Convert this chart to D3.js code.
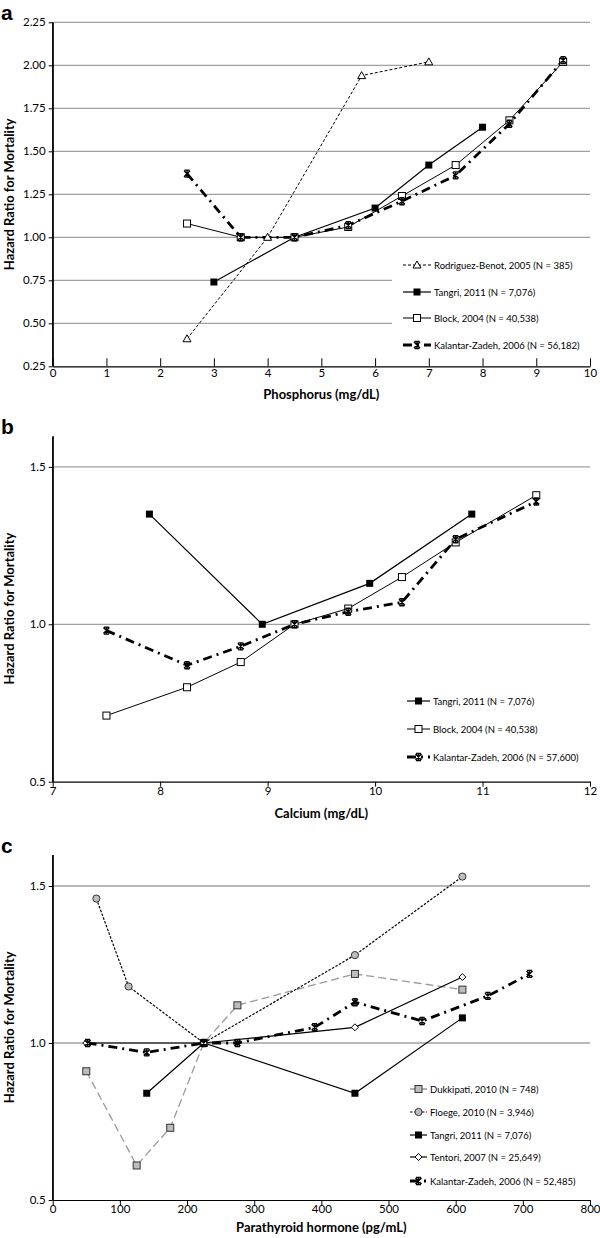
<!DOCTYPE html>
<html><head><meta charset="utf-8">
<script src="https://cdn.jsdelivr.net/npm/d3@7"></script>
<style>body{margin:0;background:#fff}</style>
</head><body><svg id="chart" width="600" height="1238"></svg>
<script>
// ---------- Panel a : Phosphorus ----------
const aXTicks = [0,1,2,3,4,5,6,7,8,9,10];
const aYTicks = [0.25,0.50,0.75,1.00,1.25,1.50,1.75,2.00,2.25];
const aRodriguezX = [2.5,4,5.75,7];
const aRodriguezY = [0.41,1.00,1.94,2.02];
const aTangriX = [3,4.5,6,7,8];
const aTangriY = [0.74,1.00,1.17,1.42,1.64];
const aBlockX = [2.5,3.5,4.5,5.5,6.5,7.5,8.5,9.5];
const aBlockY = [1.08,1.00,1.00,1.06,1.24,1.42,1.68,2.02];
const aKalantarX = [2.5,3.5,4.5,5.5,6.5,7.5,8.5,9.5];
const aKalantarY = [1.37,1.00,1.00,1.07,1.21,1.36,1.66,2.03];
const aLegend = ["Rodriguez-Benot, 2005 (N = 385)","Tangri, 2011  (N = 7,076)","Block, 2004  (N = 40,538)","Kalantar-Zadeh, 2006 (N = 56,182)"];

// ---------- Panel b : Calcium ----------
const bXTicks = [7,8,9,10,11,12];
const bYTicks = [0.5,1.0,1.5];
const bTangriX = [7.9,8.95,9.95,10.9];
const bTangriY = [1.35,1.00,1.13,1.35];
const bBlockX = [7.5,8.25,8.75,9.25,9.75,10.25,10.75,11.5];
const bBlockY = [0.71,0.80,0.88,1.00,1.05,1.15,1.26,1.41];
const bKalantarX = [7.5,8.25,8.75,9.25,9.75,10.25,10.75,11.5];
const bKalantarY = [0.98,0.87,0.93,1.00,1.04,1.07,1.27,1.39];
const bLegend = ["Tangri, 2011  (N = 7,076)","Block, 2004  (N = 40,538)","Kalantar-Zadeh, 2006 (N = 57,600)"];

// ---------- Panel c : PTH ----------
const cXTicks = [0,100,200,300,400,500,600,700,800];
const cYTicks = [0.5,1.0,1.5];
const cDukkipatiX = [50,125,175,225,275,450,610];
const cDukkipatiY = [0.91,0.61,0.73,1.00,1.12,1.22,1.17];
const cFloegeX = [65,113,225,450,610];
const cFloegeY = [1.46,1.18,1.00,1.28,1.53];
const cTangriX = [140,225,450,610];
const cTangriY = [0.84,1.00,0.84,1.08];
const cTentoriX = [50,225,450,610];
const cTentoriY = [1.00,1.00,1.05,1.21];
const cKalantarX = [52,140,225,275,390,450,550,648,710];
const cKalantarY = [1.00,0.97,1.00,1.00,1.05,1.13,1.07,1.15,1.22];
const cLegend = ["Dukkipati, 2010 (N = 748)","Floege, 2010 (N = 3,946)","Tangri, 2011  (N = 7,076)","Tentori, 2007 (N = 25,649)","Kalantar-Zadeh, 2006 (N = 52,485)"];

const zip = (xs, ys) => xs.map((x,i)=>({x, y: ys[i]}));

const STY = {
  rodriguez:{stroke:"#000", w:1, dash:"3,2", marker:"tri"},
  tangri:{stroke:"#000", w:1.2, dash:null, marker:"sqFill"},
  block:{stroke:"#000", w:1, dash:null, marker:"sqOpen"},
  kalantar:{stroke:"#000", w:2.8, dash:"9,5,2,5", marker:"star"},
  dukkipati:{stroke:"#9a9a9a", w:1.3, dash:"8,4", marker:"sqGray"},
  floege:{stroke:"#000", w:1.2, dash:"2.5,1.5", marker:"circGray"},
  tentori:{stroke:"#000", w:1.2, dash:null, marker:"diamond"}
};

const svg = d3.select("#chart");
const FONT = "Lato, 'Open Sans', sans-serif";

function drawMarker(g, type, x, y){
  if(type==="tri"){
    g.append("path").attr("d",`M${x},${y-4}L${x+4},${y+3}L${x-4},${y+3}Z`).attr("fill","#fff").attr("stroke","#000").attr("stroke-width",1);
  } else if(type==="sqFill"){
    g.append("rect").attr("x",x-3.5).attr("y",y-3.5).attr("width",7).attr("height",7).attr("fill","#000");
  } else if(type==="sqOpen"){
    g.append("rect").attr("x",x-3.5).attr("y",y-3.5).attr("width",7).attr("height",7).attr("fill","#fff").attr("stroke","#000").attr("stroke-width",1);
  } else if(type==="sqGray"){
    g.append("rect").attr("x",x-3.5).attr("y",y-3.5).attr("width",7).attr("height",7).attr("fill","#bdbdbd").attr("stroke","#333").attr("stroke-width",1);
  } else if(type==="circGray"){
    g.append("circle").attr("cx",x).attr("cy",y).attr("r",3.6).attr("fill","#bdbdbd").attr("stroke","#333").attr("stroke-width",1);
  } else if(type==="diamond"){
    g.append("path").attr("d",`M${x},${y-3.5}L${x+3.5},${y}L${x},${y+3.5}L${x-3.5},${y}Z`).attr("fill","#fff").attr("stroke","#000").attr("stroke-width",1);
  } else if(type==="star"){
    g.append("path").attr("d",`M${x-3},${y-3}L${x+3},${y+3}M${x-3},${y+3}L${x+3},${y-3}M${x},${y-3.5}L${x},${y+3.5}M${x-2.5},${y-3.5}H${x+2.5}M${x-2.5},${y+3.5}H${x+2.5}`)
      .attr("stroke","#000").attr("stroke-width",1.4).attr("fill","none");
  }
}

function drawPanel(cfg){
  const g = svg.append("g");
  const x = d3.scaleLinear().domain(cfg.xDomain).range([cfg.left, cfg.right]);
  const y = d3.scaleLinear().domain(cfg.yDomain).range([cfg.bottom, cfg.top]);
  // gridlines
  cfg.grid.forEach(v=>{
    const xe = (cfg.gridShort && cfg.gridShort.vals.includes(v)) ? cfg.gridShort.end : cfg.gridEnd;
    g.append("line").attr("x1",cfg.left).attr("x2",xe).attr("y1",y(v)).attr("y2",y(v))
      .attr("stroke","#a0a0a0").attr("stroke-width",1.3);
  });
  // y axis
  const ya = g.append("g").attr("transform",`translate(${cfg.left},0)`)
    .call(d3.axisLeft(y).tickValues(cfg.yTicks).tickFormat(cfg.yFmt).tickSize(4).tickSizeOuter(0));
  ya.select(".domain").attr("stroke","#000").attr("stroke-width",1.2);
  ya.selectAll(".tick line").attr("stroke","#000");
  ya.selectAll("text").attr("font-family",FONT).attr("font-size",11.5).attr("fill","#000").attr("x",-7);
  // y axis extends to top
  g.append("line").attr("x1",cfg.left).attr("x2",cfg.left).attr("y1",cfg.axisTop).attr("y2",cfg.bottom).attr("stroke","#000").attr("stroke-width",1.2);
  // x axis
  const xa = g.append("g").attr("transform",`translate(0,${cfg.bottom})`)
    .call(d3.axisBottom(x).tickValues(cfg.xTicks).tickFormat(d3.format("d")).tickSize(cfg.xTickIn ? -8 : 5).tickSizeOuter(0));
  xa.select(".domain").attr("stroke","#000").attr("stroke-width",1.2);
  xa.selectAll(".tick line").attr("stroke","#000");
  xa.selectAll("text").attr("font-family",FONT).attr("font-size",11.5).attr("fill","#000").attr("y",cfg.xLabelDy).attr("dy",0);
  // titles
  g.append("text").attr("x",(cfg.left+cfg.right)/2).attr("y",cfg.xTitleY).attr("text-anchor","middle")
    .attr("font-family",FONT).attr("font-weight","bold").attr("font-size",13).text(cfg.xTitle);
  g.append("text").attr("transform",`translate(14,${(cfg.top+cfg.bottom)/2}) rotate(-90)`).attr("text-anchor","middle")
    .attr("font-family",FONT).attr("font-weight","bold").attr("font-size",13).text("Hazard Ratio for Mortality");
  g.append("text").attr("x",1).attr("y",cfg.labelY).attr("font-family","'Liberation Sans', Arial, sans-serif")
    .attr("font-weight","bold").attr("font-size",21).text(cfg.label);
  // series
  const line = d3.line().x(d=>x(d.x)).y(d=>y(d.y));
  cfg.series.forEach(s=>{
    const st = STY[s.style];
    g.append("path").datum(s.data).attr("d",line).attr("fill","none")
      .attr("stroke",st.stroke).attr("stroke-width",st.w).attr("stroke-dasharray",st.dash);
  });
  cfg.series.forEach(s=>{
    const st = STY[s.style];
    s.data.forEach(d=>drawMarker(g, st.marker, x(d.x), y(d.y)));
  });
  // legend
  cfg.series.forEach((s,i)=>{
    const st = STY[s.style];
    const ly = cfg.legendRows[i];
    const lx0 = cfg.legendX[0], lx1 = cfg.legendX[1];
    g.append("line").attr("x1",lx0).attr("x2",lx1).attr("y1",ly).attr("y2",ly)
      .attr("stroke",st.stroke).attr("stroke-width",st.w).attr("stroke-dasharray",st.dash);
    drawMarker(g, st.marker, (lx0+lx1)/2, ly);
    g.append("text").attr("x",cfg.legendX[2]).attr("y",ly+3.5).attr("font-family",FONT).attr("font-size",9.5)
      .text(cfg.legend[i]);
  });
}

drawPanel({
  label:"a", labelY:20, xDomain:[0,10], yDomain:[0.25,2.25], left:52.7, right:590, top:22.3, bottom:366.3, axisTop:22.3,
  xTicks:aXTicks, yTicks:aYTicks, yFmt:d3.format(".2f"), grid:[0.5,0.75,1.0,1.25,1.5,1.75,2.0,2.25], gridEnd:590,
  gridShort:{vals:[0.5,0.75], end:392}, xTickIn:true, xLabelDy:11, xTitleY:399, xTitle:"Phosphorus (mg/dL)",
  series:[
    {style:"rodriguez", data:zip(aRodriguezX,aRodriguezY)},
    {style:"tangri", data:zip(aTangriX,aTangriY)},
    {style:"block", data:zip(aBlockX,aBlockY)},
    {style:"kalantar", data:zip(aKalantarX,aKalantarY)}
  ],
  legend:aLegend, legendRows:[265,292,318,345], legendX:[403,431,434]
});

drawPanel({
  label:"b", labelY:434, xDomain:[7,12], yDomain:[0.5,1.6], left:52.7, right:590, top:435.4, bottom:781.7, axisTop:436.7,
  xTicks:bXTicks, yTicks:bYTicks, yFmt:d3.format(".1f"), grid:[1.0,1.5], gridEnd:590, xTickIn:false, xLabelDy:13,
  xTitleY:818, xTitle:"Calcium (mg/dL)",
  series:[
    {style:"tangri", data:zip(bTangriX,bTangriY)},
    {style:"block", data:zip(bBlockX,bBlockY)},
    {style:"kalantar", data:zip(bKalantarX,bKalantarY)}
  ],
  legend:bLegend, legendRows:[701,729,757], legendX:[407,430,433]
});

drawPanel({
  label:"c", labelY:853, xDomain:[0,800], yDomain:[0.5,1.6], left:52.7, right:590, top:854.6, bottom:1200, axisTop:855,
  xTicks:cXTicks, yTicks:cYTicks, yFmt:d3.format(".1f"), grid:[1.0,1.5], gridEnd:590, xTickIn:false, xLabelDy:13,
  xTitleY:1232, xTitle:"Parathyroid hormone (pg/mL)",
  series:[
    {style:"dukkipati", data:zip(cDukkipatiX,cDukkipatiY)},
    {style:"floege", data:zip(cFloegeX,cFloegeY)},
    {style:"tangri", data:zip(cTangriX,cTangriY)},
    {style:"tentori", data:zip(cTentoriX,cTentoriY)},
    {style:"kalantar", data:zip(cKalantarX,cKalantarY)}
  ],
  legend:cLegend, legendRows:[1089,1112,1135,1157,1181], legendX:[410,427,430]
});
</script></body></html>
